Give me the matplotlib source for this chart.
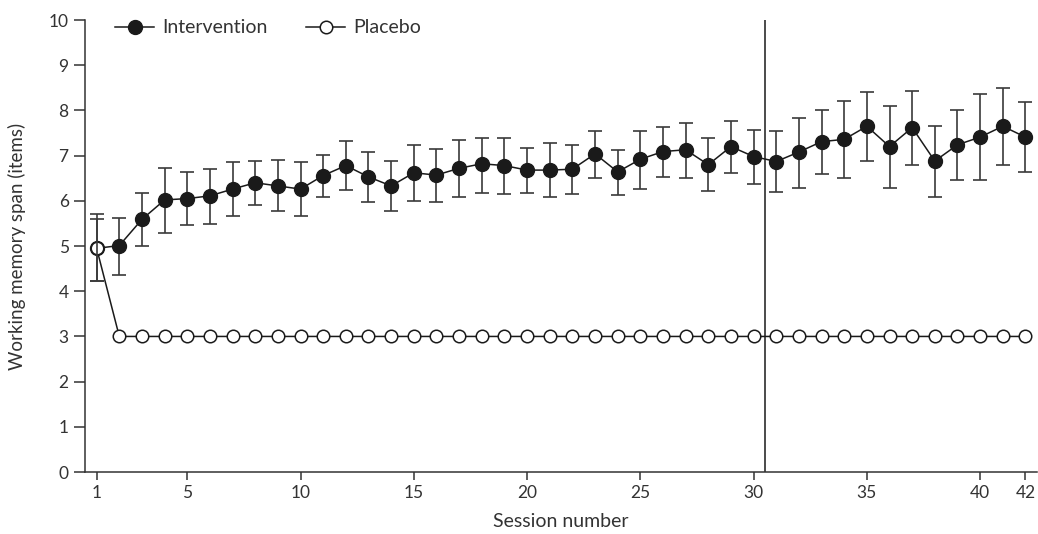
import matplotlib
matplotlib.use("Agg")
import matplotlib.pyplot as plt
import numpy as np

plt.rcParams['font.family'] = ['Lato', 'DejaVu Sans']

# session numbers
sessions = list(range(1, 43))

# intervention group: mean and error bar bounds
interv_mean = [4.95, 5.01, 5.59, 6.02, 6.05, 6.11, 6.26, 6.40, 6.33, 6.26,
               6.56, 6.78, 6.53, 6.33, 6.62, 6.57, 6.72, 6.82, 6.78, 6.68,
               6.68, 6.70, 7.04, 6.64, 6.92, 7.09, 7.13, 6.80, 7.20, 6.98,
               6.87, 7.08, 7.31, 7.36, 7.65, 7.20, 7.62, 6.88, 7.24, 7.41,
               7.65, 7.41]
interv_low = [4.23, 4.37, 5.00, 5.29, 5.46, 5.49, 5.67, 5.91, 5.77, 5.66,
              6.09, 6.25, 5.97, 5.77, 6.00, 5.98, 6.09, 6.18, 6.16, 6.17,
              6.09, 6.15, 6.50, 6.14, 6.27, 6.52, 6.50, 6.22, 6.62, 6.38,
              6.19, 6.29, 6.59, 6.50, 6.89, 6.29, 6.80, 6.09, 6.45, 6.45,
              6.80, 6.63]
interv_high = [5.70, 5.63, 6.18, 6.73, 6.63, 6.70, 6.87, 6.89, 6.90, 6.87,
               7.01, 7.32, 7.09, 6.89, 7.23, 7.14, 7.35, 7.40, 7.38, 7.17,
               7.28, 7.23, 7.55, 7.13, 7.55, 7.64, 7.73, 7.40, 7.76, 7.57,
               7.54, 7.84, 8.02, 8.21, 8.41, 8.10, 8.43, 7.66, 8.00, 8.36,
               8.50, 8.19]

# placebo group
placebo_mean = [4.95] + [3.0] * 41
placebo_low_1 = 4.23
placebo_high_1 = 5.59

xticks = [1, 5, 10, 15, 20, 25, 30, 35, 40, 42]
phase_split = 30.5

txt = '#333333'
ink = '#1a1a1a'

fig = plt.figure(figsize=(10.38, 5.34), dpi=100)
ax = fig.add_axes([0.0822, 0.116, 0.9166, 0.8465])

m = np.array(interv_mean)
yerr = [m - np.array(interv_low), np.array(interv_high) - m]
ax.errorbar(sessions, interv_mean, yerr=yerr, fmt='none', ecolor='#3a3a3a',
            elinewidth=1.2, capsize=5, capthick=1.2, zorder=2)

ax.plot(sessions, interv_mean, color=ink, lw=1.1, marker='o', ms=10,
        mfc=ink, mec=ink, zorder=3, label='Intervention')
ax.plot(sessions, placebo_mean, color=ink, lw=1.1, marker='o', ms=9,
        mfc='white', mec=ink, mew=1.1, zorder=4, label='Placebo')
ax.errorbar([1], [placebo_mean[0]],
            yerr=[[placebo_mean[0] - placebo_low_1], [placebo_high_1 - placebo_mean[0]]],
            fmt='none', ecolor='#3a3a3a', elinewidth=1.2, capsize=5, capthick=1.2, zorder=5)

ax.axvline(phase_split, color=ink, lw=1.1, zorder=1)

ax.set_xlim(0.5, 42.5)
ax.set_ylim(0, 10)
ax.set_xticks(xticks)
ax.set_yticks(range(0, 11))
ax.spines['top'].set_visible(False)
ax.spines['right'].set_visible(False)
for s in ['left', 'bottom']:
    ax.spines[s].set_color(txt)
    ax.spines[s].set_linewidth(1.1)
ax.tick_params(axis='both', direction='out', colors=txt, labelsize=12.5, width=1.1)
ax.tick_params(axis='y', length=8, pad=4)
ax.tick_params(axis='x', length=6, pad=3)

ax.set_xlabel('Session number', fontsize=14, color=txt, labelpad=9)
ax.set_ylabel('Working memory span (items)', fontsize=13.5, color=txt, labelpad=16)

leg = ax.legend(loc='upper left', bbox_to_anchor=(0.013, 1.04), ncol=2, frameon=False,
                fontsize=14, handlelength=2.0, columnspacing=2.0, handletextpad=0.4)
for t in leg.get_texts():
    t.set_color(txt)

fig.savefig('out.png', dpi=100)
